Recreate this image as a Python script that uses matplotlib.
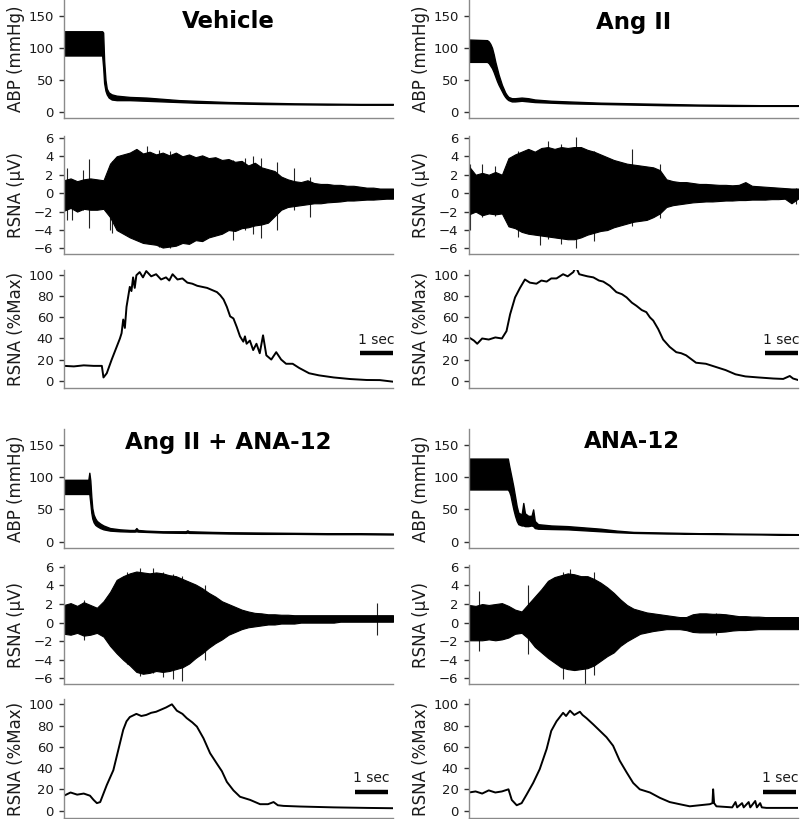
import numpy as np
import matplotlib
matplotlib.use("Agg")
import matplotlib.pyplot as plt

plt.rcParams['font.family'] = ['DejaVu Sans']

# ---------------- data ----------------
TITLES = ["Vehicle", "Ang II", "Ang II + ANA-12", "ANA-12"]
YLABELS = ["ABP (mmHg)", "RSNA (\u00b5V)", "RSNA (%Max)"]
ABP_TICKS = [0, 50, 100, 150]
RAW_TICKS = [-6, -4, -2, 0, 2, 4, 6]
PCT_TICKS = [0, 20, 40, 60, 80, 100]
SCALE_LABEL = "1 sec"

# --- Vehicle ---
VEH_ABP_T = [0, 1.16, 1.19, 1.22, 1.26, 1.30, 1.36, 1.45, 1.6, 1.8, 2.0, 2.5, 3.0, 3.5, 4.0, 5.0, 6.0, 7.0, 8.0, 9.0, 10.0]
VEH_ABP_UP = [126, 126, 124, 80, 50, 36, 30, 27, 25, 24, 23, 22, 20, 18, 17, 15, 14, 13, 12.5, 12, 12]
VEH_ABP_LO = [88, 88, 70, 45, 33, 27, 22, 19, 18, 18, 18, 17, 16, 15, 14, 13, 12, 11.5, 11, 11, 11]
VEH_RAW_UP = [1.4, 1.6, 1.3, 1.5, 1.6, 1.5, 1.4, 3.2, 4.0, 4.2,
              4.4, 4.8, 4.3, 4.5, 4.2, 4.4, 4.1, 4.4, 4.0, 4.2,
              3.9, 4.1, 3.8, 3.9, 3.6, 3.7, 3.4, 3.5, 3.0, 3.3,
              2.8, 2.6, 2.4, 1.8, 1.5, 1.3, 1.2, 1.4, 1.1, 1.0,
              1.0, 0.9, 0.9, 0.8, 0.8, 0.7, 0.6, 0.6, 0.5, 0.5, 0.5]
VEH_RAW_LO = [-1.9, -1.6, -2.0, -1.7, -1.8, -1.8, -1.7, -2.6, -4.0, -4.4,
              -4.8, -5.1, -5.4, -5.5, -5.6, -5.9, -5.8, -5.7, -5.4, -5.5,
              -5.1, -5.2, -4.8, -4.6, -4.4, -4.0, -4.1, -3.8, -3.7, -3.5,
              -3.4, -3.2, -2.5, -1.8, -1.5, -1.4, -1.3, -1.2, -1.1, -1.1,
              -1.0, -0.95, -0.9, -0.8, -0.8, -0.75, -0.7, -0.7, -0.65, -0.6, -0.6]
VEH_SPIKE_T = [0.08, 0.23, 0.59, 0.77, 1.4, 1.45, 2.51, 2.9, 3.22, 5.15, 5.5, 5.75, 6.0, 6.46, 7.0, 7.48]
VEH_SPIKE_LO = [-2.9, -2.9, -1.8, -3.8, -4.0, -4.3, -5.3, -5.8, -6.0, -5.1, -4.0, -4.4, -4.9, -4.0, -1.8, -2.6]
VEH_SPIKE_HI = [2.7, 1.5, 2.5, 3.7, 3.0, 3.5, 5.1, 4.7, 4.6, 3.6, 3.8, 4.0, 3.8, 3.4, 2.7, 1.8]
VEH_PCT_T = [0, 0.3, 0.6, 0.9, 1.15, 1.2, 1.3, 1.45, 1.6, 1.7,
             1.75, 1.8, 1.85, 1.9, 2.0, 2.05, 2.1, 2.15, 2.2, 2.3,
             2.4, 2.5, 2.65, 2.8, 2.95, 3.1, 3.2, 3.3, 3.45, 3.6,
             3.75, 3.9, 4.05, 4.2, 4.35, 4.5, 4.65, 4.75, 4.85, 4.95,
             5.05, 5.15, 5.25, 5.35, 5.45, 5.5, 5.55, 5.65, 5.75, 5.85,
             5.95, 6.05, 6.15, 6.3, 6.45, 6.6, 6.75, 6.95, 7.15, 7.45,
             7.75, 8.2, 8.7, 9.2, 9.6, 10]
VEH_PCT = [14, 13.5, 14.5, 14, 14, 3, 7, 20, 32, 40,
           45, 58, 50, 70, 89, 85, 98, 88, 100, 103,
           98, 104, 99, 101, 96, 98, 95, 101, 96, 97,
           93, 92, 90, 89, 88, 86, 84, 81, 77, 70,
           61, 59, 51, 42, 37, 42, 35, 38, 29, 35,
           26, 43, 24, 20, 27, 20, 16, 16, 12, 7,
           5, 3, 1.5, 0.6, 0.5, -1]

# --- Ang II ---
ANG_ABP_T = [0, 0.55, 0.6, 0.65, 0.7, 0.75, 0.8, 0.85, 0.9, 0.95,
             1.0, 1.05, 1.1, 1.15, 1.2, 1.3, 1.4, 1.6, 1.8, 2.0,
             2.5, 3, 4, 5, 6, 7, 8, 9, 10]
ANG_ABP_UP = [113, 112, 110, 106, 100, 90, 78, 68, 58, 50,
              42, 36, 30, 26, 23, 21, 21, 22, 21, 19,
              17, 16, 14, 13, 12, 11, 10.5, 10, 10]
ANG_ABP_LO = [78, 78, 76, 72, 68, 62, 55, 48, 42, 37,
              32, 27, 23, 20, 18, 16, 16, 17, 16, 15,
              14, 13, 12, 11, 10, 9.5, 9, 9, 9]
ANG_RAW_UP = [2.9, 2.0, 2.2, 2.0, 2.3, 2.0, 3.8, 4.2, 4.5, 4.8,
              4.5, 4.9, 5.0, 4.8, 5.0, 4.9, 5.0, 5.0, 4.7, 4.5,
              4.2, 3.9, 3.6, 3.4, 3.2, 3.1, 3.0, 2.9, 2.8, 2.5,
              1.5, 1.3, 1.2, 1.2, 1.1, 1.0, 1.0, 0.95, 0.9, 0.9,
              0.85, 0.9, 1.2, 0.8, 0.75, 0.7, 0.65, 0.6, 0.55, 0.5, 0.5]
ANG_RAW_LO = [-2.3, -2.0, -2.4, -2.2, -2.3, -2.2, -3.6, -3.8, -4.2, -4.4,
              -4.5, -4.6, -4.7, -4.8, -4.9, -5.0, -5.0, -4.8, -4.5, -4.3,
              -4.1, -4.0, -3.7, -3.5, -3.3, -3.1, -3.0, -2.9, -2.6, -2.2,
              -1.5, -1.3, -1.2, -1.1, -1.0, -0.95, -0.9, -0.9, -0.85, -0.8,
              -0.8, -0.75, -0.75, -0.7, -0.7, -0.7, -0.65, -0.65, -0.6, -1.1, -0.6]
ANG_SPIKE_T = [0.03, 0.4, 0.8, 1.5, 2.16, 2.39, 2.8, 3.25, 3.8, 4.94, 5.8, 9.94]
ANG_SPIKE_LO = [-4.0, -2.6, -2.5, -4.8, -5.6, -5.0, -5.5, -6.0, -5.2, -3.6, -2.7, -1.15]
ANG_SPIKE_HI = [3.2, 3.2, 3.0, 4.6, 4.8, 5.7, 5.3, 6.1, 4.6, 4.8, 3.2, 0.6]
ANG_PCT_T = [0, 0.15, 0.25, 0.4, 0.6, 0.8, 1.0, 1.14, 1.25, 1.4,
             1.55, 1.7, 1.85, 2.05, 2.2, 2.36, 2.5, 2.66, 2.86, 3.0,
             3.17, 3.25, 3.35, 3.47, 3.6, 3.78, 3.95, 4.08, 4.28, 4.48,
             4.65, 4.79, 4.95, 5.09, 5.25, 5.39, 5.5, 5.6, 5.75, 5.9,
             6.1, 6.3, 6.45, 6.6, 6.9, 7.2, 7.5, 7.8, 8.1, 8.4,
             8.8, 9.25, 9.55, 9.75, 9.85, 10]
ANG_PCT = [41, 38, 35, 40, 39, 41, 40, 47, 63, 79,
           88, 96, 93, 92, 95, 94, 97, 97, 101, 99,
           103, 108, 101, 100, 99, 98, 95, 94, 90, 84,
           82, 79, 74, 71, 67, 65, 60, 57, 49, 39,
           32, 27, 26, 24, 17, 16, 13, 10, 6, 4,
           3, 2, 1.6, 4.4, 2, 0.6]

# --- Ang II + ANA-12 ---
AA_ABP_T = [0, 0.74, 0.77, 0.80, 0.83, 0.86, 0.9, 0.95, 1.0, 1.1,
            1.2, 1.4, 1.7, 2.0, 2.15, 2.2, 2.25, 2.5, 3.0, 3.7,
            3.75, 3.8, 4.5, 5, 6, 7, 8, 9, 10]
AA_ABP_UP = [96, 96, 107, 95, 70, 52, 42, 36, 32, 28,
             25, 21, 19, 18, 18, 21, 18, 17, 16, 16,
             17.5, 16, 15, 14.5, 14, 13.5, 13, 13, 12.5]
AA_ABP_LO = [74, 74, 74, 60, 45, 36, 30, 26, 24, 21,
             19, 17, 16, 15.5, 15.5, 16, 15.5, 15, 14, 13.5,
             14, 13.5, 13, 12.5, 12, 12, 11.5, 11.5, 11]
AA_RAW_UP = [1.9, 2.1, 1.8, 2.2, 1.9, 1.6, 2.3, 3.3, 4.6, 5.0,
             5.3, 5.5, 5.4, 5.3, 5.4, 5.3, 5.1, 5.0, 4.7, 4.4,
             4.1, 3.7, 3.2, 2.8, 2.3, 2.0, 1.7, 1.4, 1.2, 1.05,
             1.0, 0.9, 0.9, 0.85, 0.85, 0.8, 0.8, 0.8, 0.8, 0.8,
             0.8, 0.8, 0.8, 0.8, 0.8, 0.8, 0.8, 0.8, 0.8, 0.8, 0.8]
AA_RAW_LO = [-1.2, -1.3, -1.1, -1.4, -1.3, -1.1, -1.5, -2.5, -3.3, -4.0,
             -4.6, -5.3, -5.5, -5.4, -5.2, -5.3, -5.2, -5.0, -4.8, -4.4,
             -3.8, -3.3, -2.7, -2.2, -1.8, -1.3, -1.0, -0.7, -0.5, -0.4,
             -0.3, -0.2, -0.2, -0.1, -0.1, -0.1, 0.0, 0.0, 0.0, 0.0,
             0.0, 0.0, 0.1, 0.1, 0.1, 0.1, 0.1, 0.1, 0.1, 0.1, 0.1]
AA_SPIKE_T = [0.6, 1.9, 2.3, 2.7, 3.0, 3.3, 3.6, 4.3, 9.5]
AA_SPIKE_LO = [-1.9, -4.5, -5.75, -5.4, -5.9, -6.1, -6.3, -4.0, -1.3]
AA_SPIKE_HI = [2.4, 5.5, 5.9, 5.9, 5.5, 5.2, 5.0, 4.0, 2.1]
AA_PCT_T = [0, 0.2, 0.4, 0.6, 0.79, 0.9, 1.0, 1.1, 1.3, 1.5,
            1.65, 1.8, 1.9, 2.0, 2.2, 2.35, 2.5, 2.65, 2.8, 2.95,
            3.1, 3.28, 3.43, 3.6, 3.73, 3.9, 4.04, 4.24, 4.44, 4.65,
            4.8, 4.95, 5.15, 5.35, 5.66, 5.96, 6.2, 6.37, 6.5, 6.67,
            7.18, 8.2, 9.2, 10]
AA_PCT = [14, 17, 15, 16, 14, 10, 7, 8, 24, 38,
          57, 76, 84, 88, 91, 89, 90, 92, 93, 95,
          97, 100, 94, 91, 87, 83, 79, 68, 54, 44,
          37, 27, 19, 13, 10, 6, 6, 8, 5, 4.4,
          3.8, 3, 2.5, 2.2]

# --- ANA-12 ---
ANA_ABP_T = [0, 1.18, 1.22, 1.26, 1.3, 1.35, 1.4, 1.45, 1.5, 1.6,
             1.65, 1.7, 1.8, 1.9, 1.95, 2.0, 2.1, 2.5, 3.0, 3.5,
             4.0, 4.5, 5.0, 6, 7, 8, 9, 10]
ANA_ABP_UP = [129, 129, 118, 108, 98, 85, 70, 55, 45, 42,
              60, 44, 40, 40, 50, 32, 27, 25, 24, 22,
              20, 17, 15, 14, 13, 12.5, 12, 11.5]
ANA_ABP_LO = [81, 81, 78, 72, 62, 50, 40, 32, 27, 25,
              25, 24, 24, 25, 24, 21, 20, 19.5, 19, 17.5,
              16, 14.5, 13.5, 12.5, 12, 11.5, 11, 10.5]
ANA_RAW_UP = [1.9, 1.8, 2.0, 1.9, 2.0, 2.1, 1.8, 1.4, 1.2, 2.0,
              2.8, 3.6, 4.5, 4.9, 5.1, 5.3, 5.2, 5.0, 5.0, 4.7,
              4.3, 3.8, 3.2, 2.5, 1.9, 1.5, 1.3, 1.1, 1.0, 0.9,
              0.8, 0.7, 0.6, 0.6, 0.9, 1.0, 1.0, 0.95, 0.95, 0.9,
              0.8, 0.7, 0.7, 0.65, 0.65, 0.6, 0.6, 0.6, 0.6, 0.6, 0.6]
ANA_RAW_LO = [-1.9, -1.9, -1.9, -1.8, -1.9, -1.8, -1.6, -1.2, -1.1, -1.7,
              -2.6, -3.2, -3.8, -4.3, -4.8, -5.0, -5.1, -5.0, -4.9, -4.6,
              -4.1, -3.6, -3.2, -2.5, -2.0, -1.6, -1.2, -1.05, -0.9, -0.8,
              -0.7, -0.7, -0.7, -0.8, -1.0, -1.05, -1.05, -1.05, -1.0, -0.95,
              -0.85, -0.8, -0.8, -0.75, -0.7, -0.7, -0.7, -0.7, -0.7, -0.7, -0.7]
ANA_SPIKE_T = [0.3, 1.8, 2.87, 3.07, 3.53, 3.8, 7.5]
ANA_SPIKE_LO = [-3.0, -3.4, -6.1, -5.0, -6.8, -5.6, -1.3]
ANA_SPIKE_HI = [3.4, 4.0, 5.4, 5.8, 5.0, 5.5, 1.0]
ANA_PCT_T = [0, 0.2, 0.4, 0.6, 0.8, 1.0, 1.2, 1.3, 1.45, 1.6,
             1.75, 1.95, 2.15, 2.36, 2.5, 2.66, 2.86, 2.95, 3.07, 3.2,
             3.37, 3.45, 3.57, 3.78, 3.98, 4.18, 4.38, 4.58, 4.79, 4.99,
             5.19, 5.5, 5.8, 6.1, 6.4, 6.71, 7.01, 7.32, 7.4, 7.42,
             7.45, 7.52, 8.0, 8.1, 8.15, 8.3, 8.35, 8.5, 8.55, 8.7,
             8.75, 8.85, 8.9, 9.04, 10]
ANA_PCT = [17, 18, 16, 19, 17, 18, 20, 10, 5, 7,
           15, 26, 39, 58, 75, 84, 92, 89, 94, 90,
           93, 90, 87, 81, 75, 69, 61, 47, 36, 26,
           20, 17, 12, 8, 6, 4, 5, 6, 7, 20,
           7, 4, 3, 8, 3, 7, 3, 8, 3, 9,
           3, 7, 3, 2.5, 2.5]

RAW_T = np.linspace(0, 10, 51)  # 0.2 s sampling of the envelope readings

# scale bar (sec) for each panel
BAR_START = [9.0, 9.0, 8.85, 8.95]
BAR_LEN = [1.0, 1.0, 1.0, 1.0]

panels = [
    dict(abp=(VEH_ABP_T, VEH_ABP_UP, VEH_ABP_LO), raw=(VEH_RAW_UP, VEH_RAW_LO),
         spk=(VEH_SPIKE_T, VEH_SPIKE_LO, VEH_SPIKE_HI), pct=(VEH_PCT_T, VEH_PCT)),
    dict(abp=(ANG_ABP_T, ANG_ABP_UP, ANG_ABP_LO), raw=(ANG_RAW_UP, ANG_RAW_LO),
         spk=(ANG_SPIKE_T, ANG_SPIKE_LO, ANG_SPIKE_HI), pct=(ANG_PCT_T, ANG_PCT)),
    dict(abp=(AA_ABP_T, AA_ABP_UP, AA_ABP_LO), raw=(AA_RAW_UP, AA_RAW_LO),
         spk=(AA_SPIKE_T, AA_SPIKE_LO, AA_SPIKE_HI), pct=(AA_PCT_T, AA_PCT)),
    dict(abp=(ANA_ABP_T, ANA_ABP_UP, ANA_ABP_LO), raw=(ANA_RAW_UP, ANA_RAW_LO),
         spk=(ANA_SPIKE_T, ANA_SPIKE_LO, ANA_SPIKE_HI), pct=(ANA_PCT_T, ANA_PCT)),
]

# ---------------- layout ----------------
W, H = 800, 819
fig = plt.figure(figsize=(W / 100, H / 100), dpi=100)

def rect(x0, x1, ytop, ybot):
    return [x0 / W, 1 - ybot / H, (x1 - x0) / W, (ybot - ytop) / H]

COLS = [(64, 393), (469, 798)]
ROWS = [[(0, 118), (136, 254), (270, 388)],
        [(429, 548), (565, 684), (699, 818)]]
TITLE_POS = [(228, 22), (634, 22), (228, 442), (632, 442)]
BAR_Y = [(26, 38.5), (26, 38.5), (17.5, 31), (17.5, 31)]

SPINE_C = '#8a8a8a'
TXT_C = '#1a1a1a'

def style(ax, ylim, ticks, label):
    ax.set_xlim(0, 10)
    ax.set_ylim(*ylim)
    ax.set_yticks(ticks)
    ax.set_xticks([])
    for s in ['top', 'right']:
        ax.spines[s].set_visible(False)
    for s in ['left', 'bottom']:
        ax.spines[s].set_color(SPINE_C)
        ax.spines[s].set_linewidth(1.0)
    ax.tick_params(axis='y', length=3.5, width=1.0, pad=4, labelsize=9.5,
                   color='#333333', labelcolor=TXT_C)
    ax.set_ylabel(label, fontsize=12, color=TXT_C)
    ax.yaxis.set_label_coords(-0.118, 0.5)
    ax.patch.set_alpha(0)

for i, p in enumerate(panels):
    r, c = divmod(i, 2)
    x0, x1 = COLS[c]
    (a0, a1), (b0, b1), (c0, c1) = ROWS[r]

    ax1 = fig.add_axes(rect(x0, x1, a0, a1))
    t, up, lo = p['abp']
    ax1.fill_between(t, lo, up, color='black', lw=1.0, edgecolor='black')
    style(ax1, (-10, 175), ABP_TICKS, YLABELS[0])

    ax2 = fig.add_axes(rect(x0, x1, b0, b1))
    up, lo = p['raw']
    st, slo, shi = p['spk']
    ax2.vlines(st, slo, shi, color='#222222', lw=0.8, zorder=1)
    ax2.fill_between(RAW_T, lo, up, color='black', lw=0.8, edgecolor='black',
                     zorder=2)
    style(ax2, (-6.6, 6.2), RAW_TICKS, YLABELS[1])

    ax3 = fig.add_axes(rect(x0, x1, c0, c1))
    t, v = p['pct']
    ax3.plot(t, v, color='black', lw=1.4)
    style(ax3, (-7, 105), PCT_TICKS, YLABELS[2])
    bs, bl = BAR_START[i], BAR_LEN[i]
    by, ty = BAR_Y[i]
    ax3.plot([bs, bs + bl], [by, by], color='black', lw=3.2,
             solid_capstyle='butt', clip_on=False)
    ax3.text(bs + bl / 2, ty, SCALE_LABEL, ha='center', va='center',
             fontsize=10, color=TXT_C, clip_on=False)

    tx, ty2 = TITLE_POS[i]
    fig.text(tx / W, 1 - ty2 / H, TITLES[i], ha='center', va='center',
             fontsize=16.5, fontweight='bold', color='black')

fig.savefig('out.png', dpi=100)
